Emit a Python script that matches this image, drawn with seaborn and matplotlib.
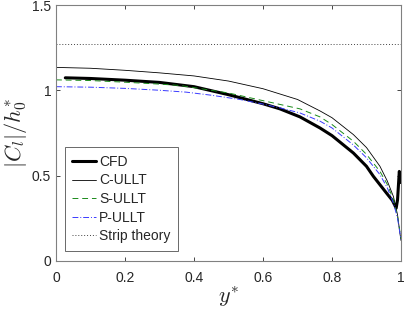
import pandas as pd
import seaborn as sns
import matplotlib.pyplot as plt

# valores
y_cfd = [0.027, 0.1, 0.2, 0.3, 0.4, 0.5, 0.553, 0.6, 0.649, 0.707, 0.765, 0.8, 0.862, 0.9, 0.92, 0.958, 0.975, 0.986, 0.990, 0.995, 0.998, 1.0]
cl_cfd = [1.074, 1.070, 1.060, 1.047, 1.022, 0.975, 0.947, 0.922, 0.892, 0.845, 0.780, 0.735, 0.633, 0.555, 0.496, 0.398, 0.355, 0.310, 0.360, 0.525, 0.50, 0.46]

y_c = [0.0, 0.1, 0.2, 0.3, 0.4, 0.5, 0.6, 0.7, 0.765, 0.8, 0.862, 0.9, 0.939, 0.96, 0.978, 0.99, 0.997, 1.0]
cl_c = [1.135, 1.130, 1.118, 1.103, 1.085, 1.055, 1.010, 0.947, 0.880, 0.840, 0.741, 0.665, 0.555, 0.470, 0.378, 0.270, 0.160, 0.120]

y_s = [0.0, 0.1, 0.193, 0.3, 0.36, 0.5, 0.6, 0.649, 0.707, 0.765, 0.8, 0.862, 0.9, 0.939, 0.96, 0.978, 0.99, 1.0]
cl_s = [1.062, 1.058, 1.049, 1.037, 1.029, 0.985, 0.940, 0.918, 0.892, 0.845, 0.800, 0.702, 0.625, 0.525, 0.450, 0.360, 0.260, 0.130]

y_p = [0.0, 0.1, 0.2, 0.3, 0.377, 0.45, 0.533, 0.6, 0.649, 0.707, 0.765, 0.8, 0.862, 0.9, 0.939, 0.96, 0.978, 0.99, 1.0]
cl_p = [1.022, 1.019, 1.012, 1.001, 0.990, 0.972, 0.947, 0.920, 0.898, 0.868, 0.820, 0.780, 0.680, 0.605, 0.506, 0.430, 0.340, 0.250, 0.125]

y_strip = [0.0, 1.0]
cl_strip = [1.275, 1.275]

sns.set_style('ticks')
plt.rcParams['font.family'] = ['Liberation Sans', 'DejaVu Sans']
plt.rcParams['mathtext.fontset'] = 'cm'

fig = plt.figure(figsize=(4.04, 3.12), dpi=100)
ax = fig.add_axes([0.1386, 0.1635, 0.854, 0.82])

sns.lineplot(x=y_cfd, y=cl_cfd, ax=ax, color='black', linewidth=2.2, label='CFD')
sns.lineplot(x=y_c, y=cl_c, ax=ax, color='black', linewidth=0.6, label='C-ULLT')
sns.lineplot(x=y_s, y=cl_s, ax=ax, color='#1a8a1a', linewidth=0.7, label='S-ULLT', linestyle=(0, (6, 4)))
sns.lineplot(x=y_p, y=cl_p, ax=ax, color='#3a3aff', linewidth=0.7, label='P-ULLT', linestyle=(0, (6, 2, 1, 2)))
sns.lineplot(x=y_strip, y=cl_strip, ax=ax, color='#444444', linewidth=0.7, label='Strip theory', linestyle=(0, (1, 2)))

ax.set_xlim(0, 1)
ax.set_ylim(0, 1.5)
ax.set_xticks([0, 0.2, 0.4, 0.6, 0.8, 1])
ax.set_xticklabels(['0', '0.2', '0.4', '0.6', '0.8', '1'])
ax.set_yticks([0, 0.5, 1, 1.5])
ax.set_yticklabels(['0', '0.5', '1', '1.5'])
ax.tick_params(direction='in', top=True, right=True, labelsize=10, colors='#262626', length=3, width=0.6)
ax.tick_params(axis='x', pad=7)
for s in ax.spines.values():
    s.set_color('#808080')
    s.set_linewidth(0.8)

ax.set_xlabel('$y^{*}$', fontsize=16, labelpad=0)
ax.set_ylabel('$|C_l|/h_0^{*}$', fontsize=16, labelpad=2)

leg = ax.legend(loc='lower left', bbox_to_anchor=(0.025, 0.04), fontsize=10, frameon=True,
                fancybox=False, handlelength=1.7, handletextpad=0.25, borderpad=0.55,
                labelspacing=0.33, borderaxespad=0)
leg.get_frame().set_edgecolor('#262626')
leg.get_frame().set_linewidth(0.6)

fig.savefig('out.png', dpi=100)
